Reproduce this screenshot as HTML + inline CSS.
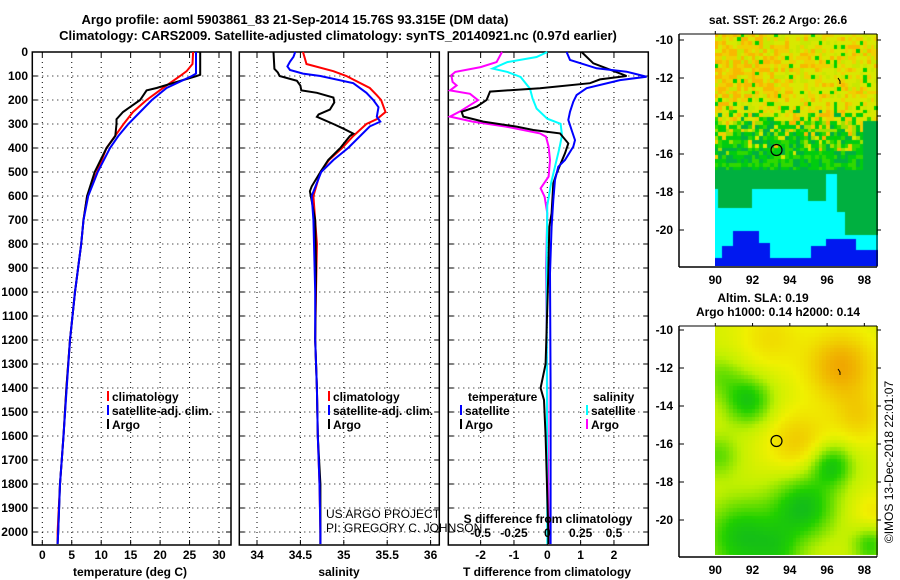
<!DOCTYPE html>
<html><head><meta charset="utf-8"><style>
html,body{margin:0;padding:0;background:#fff;}
#wrap{position:relative;width:900px;height:580px;overflow:hidden;font-family:"Liberation Sans",Arial,sans-serif;}
svg text{font-family:"Liberation Sans",Arial,sans-serif;font-weight:bold;font-size:12px;fill:#000;}
canvas{position:absolute;}
</style></head><body>
<div id="wrap">
<canvas id="sst" width="163" height="232" style="left:715px;top:34px"></canvas>
<canvas id="sla" width="163" height="229" style="left:715px;top:326px"></canvas>
<svg id="svg" width="900" height="580" style="position:absolute;left:0;top:0"></svg>
</div>
<script>
// ---- data ----
const tArgoD=[0,95,100,150,160,200,250,280,300,350,400,500,600,700,800,1000,1200,1400,1600,1800,2000,2050];
const tArgoV=[26.8,26.8,26.2,19.4,17.7,16.6,13.7,12.6,12.6,12.4,10.9,8.9,7.6,7.0,6.6,5.55,4.7,4.1,3.6,3.0,2.7,2.6];
const tClimD=[0,50,80,100,150,200,250,300,400,500,600,700,800,1000,1200,1400,1600,1800,2000,2050];
const tClimV=[25.6,25.5,24.5,23.4,20.5,17.7,15.4,13.8,10.9,9.3,7.6,7.0,6.6,5.55,4.7,4.1,3.6,3.0,2.6,2.6];
const tSatD=[0,90,100,150,200,250,300,350,400,500,600,700,800,1000,1200,1400,1600,1800,2000,2050];
const tSatV=[26.1,26.1,25.4,21.1,18.6,16.6,14.6,12.9,11.5,9.4,7.8,7.0,6.6,5.55,4.7,4.15,3.6,3.0,2.7,2.6];
const sArgoD=[0,70,85,100,120,140,160,170,190,210,240,260,270,300,320,340,350,400,450,500,560,580,620,700,900,1200,1400,1600,1800,2000,2050];
const sArgoV=[34.19,34.2,34.24,34.26,34.46,34.5,34.51,34.69,34.88,34.89,34.84,34.71,34.69,34.88,35.0,35.11,35.07,34.96,34.82,34.73,34.63,34.61,34.63,34.67,34.68,34.67,34.69,34.7,34.73,34.73,34.73];
const sClimD=[0,50,80,100,150,180,200,250,280,300,350,400,450,500,600,800,1000,1200,1400,1600,1800,2000,2050];
const sClimV=[34.53,34.57,34.88,35.03,35.3,35.38,35.43,35.48,35.38,35.26,35.11,34.98,34.83,34.73,34.65,34.69,34.68,34.67,34.69,34.7,34.72,34.73,34.73];
const sSatD=[0,20,40,60,75,90,100,130,170,200,230,270,290,310,400,450,500,600,700,1000,1200,1400,1600,1800,2000,2050];
const sSatV=[34.44,34.42,34.38,34.35,34.38,34.53,34.73,35.11,35.26,35.34,35.40,35.38,35.42,35.3,35.05,34.88,34.74,34.63,34.65,34.67,34.67,34.69,34.7,34.72,34.73,34.73];
const dtSatD=[0,33,68,82,103,117,151,179,207,249,283,325,367,394,450,478,533,617,728,922,1400,2000,2050];
const dtSatV=[0.58,0.68,1.48,2.38,2.98,2.18,1.18,0.88,0.78,0.68,0.63,0.73,0.83,0.78,0.53,0.33,0.23,0.18,0.13,0.08,0.1,0.1,0.1];
const dtArgoD=[0,47,89,100,114,130,151,165,200,228,249,269,290,311,325,339,381,422,506,547,672,728,922,1300,1400,1450,1600,2000,2050];
const dtArgoV=[1.03,1.38,2.18,2.38,1.58,1.28,-0.22,-1.72,-1.82,-2.12,-2.57,-2.52,-1.92,-0.92,-0.42,0.38,0.63,0.53,0.28,0.18,0.13,0.06,0.03,-0.05,-0.2,-0.1,-0.05,0.03,0.03];
const dsArgoD=[0,42,63,83,97,125,139,160,174,201,249,269,290,311,339,353,394,450,519,568,603,672,900,2000,2050];
const dsArgoV=[-0.34,-0.38,-0.5,-0.69,-0.72,-0.71,-0.68,-0.73,-0.58,-0.52,-0.66,-0.73,-0.56,-0.31,-0.055,-0.01,0.01,0.02,0.01,-0.05,-0.02,0,-0.01,0.01,0.01];
const dsSatD=[0,21,42,69,83,104,153,194,236,278,299,347,403,472,542,639,900,2000,2050];
const dsSatV=[0,-0.08,-0.3,-0.41,-0.3,-0.2,-0.13,-0.11,-0.08,0,0.1,0.11,0.09,0.06,0.03,0,-0.005,0,0];
const depthTicks=[0,100,200,300,400,500,600,700,800,900,1000,1100,1200,1300,1400,1500,1600,1700,1800,1900,2000];
const tTicks=[0,5,10,15,20,25,30];
const sTicks=[34,34.5,35,35.5,36];
const dTTicks=[-2,-1,0,1,2];
const dSTicks=[-0.5,-0.25,0,0.25,0.5];
const latTicks=[-10,-12,-14,-16,-18,-20];
const lonTicks=[90,92,94,96,98];

// ---- axes ----
const yD=d=>52+d*0.24;
const xT=t=>42.3+t*5.89;
const xS=s=>257+(s-34)*86.8;
const xDT=v=>547.3+v*33.33;
const xDS=v=>547.3+v*133.33;
const TOP=52,BOT=545;
const svg=document.getElementById('svg');
const NS='http://www.w3.org/2000/svg';
function mk(tag,attrs,parent){const e=document.createElementNS(NS,tag);for(const k in attrs)e.setAttribute(k,attrs[k]);(parent||svg).appendChild(e);return e;}
function txt(x,y,s,anchor,extra){const e=mk('text',Object.assign({x:x,y:y,'text-anchor':anchor||'start'},extra||{}));e.textContent=s;return e;}

const panels=[{l:32.3,r:231,name:'temperature-panel',xf:xT,ticks:tTicks},{l:239.3,r:439.3,name:'salinity-panel',xf:xS,ticks:sTicks},{l:448.3,r:648.3,name:'difference-panel',xf:xDT,ticks:dTTicks}];
panels.forEach(p=>{
  const g=mk('g',{});
  
  
  depthTicks.forEach(d=>{const l=mk('line',{x1:p.l,x2:p.r,y1:yD(d),y2:yD(d),stroke:'#000','stroke-width':1,'stroke-dasharray':'1,4'},g);
    
    mk('line',{x1:p.l,x2:p.l+5,y1:yD(d),y2:yD(d),stroke:'#000'},g);mk('line',{x1:p.r-5,x2:p.r,y1:yD(d),y2:yD(d),stroke:'#000'},g);});
  p.ticks.forEach(t=>{const x=p.xf(t);const l=mk('line',{x1:x,x2:x,y1:TOP,y2:BOT,stroke:'#000','stroke-width':1,'stroke-dasharray':'1,4'},g);
    
    mk('line',{x1:x,x2:x,y1:TOP,y2:TOP+5,stroke:'#000'},g);mk('line',{x1:x,x2:x,y1:BOT-5,y2:BOT,stroke:'#000'},g);});
  const f=mk('rect',{x:p.l,y:TOP,width:p.r-p.l,height:BOT-TOP,fill:'none',stroke:'#000','stroke-width':1.5},g);
  
});
depthTicks.forEach(d=>{const e=txt(28,yD(d)+4,String(d),'end');});
tTicks.forEach(t=>{const e=txt(xT(t),559,String(t),'middle');});
sTicks.forEach(t=>{const e=txt(xS(t),559,String(t),'middle');});
dTTicks.forEach(t=>{const e=txt(xDT(t),559,String(t),'middle');});

function line(D,V,xf,color,w,name){
  const pts=D.map((d,i)=>xf(V[i]).toFixed(1)+','+yD(d).toFixed(1)).join(' ');
  const e=mk('polyline',{points:pts,fill:'none',stroke:color,'stroke-width':w,'stroke-linejoin':'miter'});
  
}
line(tClimD,tClimV,xT,'#ff0000',2,'temperature-climatology-line');
line(tArgoD,tArgoV,xT,'#000000',2,'temperature-argo-line');
line(tSatD,tSatV,xT,'#0000ff',2,'temperature-satellite-line');
line(sClimD,sClimV,xS,'#ff0000',2,'salinity-climatology-line');
line(sArgoD,sArgoV,xS,'#000000',2,'salinity-argo-line');
line(sSatD,sSatV,xS,'#0000ff',2,'salinity-satellite-line');
line(dsArgoD,dsArgoV,xDS,'#ff00ff',2,'s-diff-argo-line');
line(dsSatD,dsSatV,xDS,'#00ffff',2,'s-diff-satellite-line');
line(dtArgoD,dtArgoV,xDT,'#000000',2,'t-diff-argo-line');
line(dtSatD,dtSatV,xDT,'#0000ff',2,'t-diff-satellite-line');

function leg(x,y,color,label,name){
  const g=mk('g',{});
  if(color)mk('rect',{x:x,y:y-10,width:2,height:10,fill:color},g);
  const t=mk('text',{x:x+5,y:y},g);t.textContent=label;
}
leg(107,401,'#ff0000','climatology','legend-entry-climatology');
leg(107,415,'#0000ff','satellite-adj. clim.','legend-entry-satellite');
leg(107,429,'#000000','Argo','legend-entry-argo');
leg(328,401,'#ff0000','climatology','legend-entry-climatology');
leg(328,415,'#0000ff','satellite-adj. clim.','legend-entry-satellite');
leg(328,429,'#000000','Argo','legend-entry-argo');
leg(463,401,null,'temperature','legend-title-temperature');
leg(460,415,'#0000ff','satellite','legend-entry-t-satellite');
leg(460,429,'#000000','Argo','legend-entry-t-argo');
leg(588,401,null,'salinity','legend-title-salinity');
leg(586,415,'#00ffff','satellite','legend-entry-s-satellite');
leg(586,429,'#ff00ff','Argo','legend-entry-s-argo');

let e;
e=txt(326,518,'US ARGO PROJECT','start',{style:'font-weight:normal;font-size:12px'});
e=txt(326,532,'PI: GREGORY C. JOHNSON','start',{style:'font-weight:normal;font-size:12px'});
e=txt(548,523,'S difference from climatology','middle');
dSTicks.forEach(t=>{const e=txt(xDS(t),537,String(t),'middle');});
e=txt(130,576,'temperature (deg C)','middle');
e=txt(339,576,'salinity','middle');
e=txt(547,576,'T difference from climatology','middle');
e=txt(295,24,'Argo profile: aoml 5903861_83 21-Sep-2014 15.76S 93.315E (DM data)','middle',{style:'font-size:13px'});
e=txt(338,40,'Climatology: CARS2009. Satellite-adjusted climatology: synTS_20140921.nc (0.97d earlier)','middle',{style:'font-size:13px'});
e=txt(778,24,'sat. SST: 26.2 Argo: 26.6','middle');
e=txt(763,302,'Altim. SLA: 0.19','middle');
e=txt(778,316,'Argo h1000: 0.14 h2000: 0.14','middle');
e=txt(0,0,'©IMOS 13-Dec-2018 22:01:07','middle',{transform:'translate(893,462) rotate(-90)',style:'font-weight:normal;font-size:12px'});

function mapAxes(top,bot,lat0y,name){
  const g=mk('g',{});
  mk('line',{x1:679,x2:679,y1:top,y2:bot,stroke:'#000','stroke-width':1.5},g);
  mk('line',{x1:679,x2:877,y1:bot,y2:bot,stroke:'#000','stroke-width':1.5},g);
  mk('line',{x1:679,x2:877,y1:top,y2:top,stroke:'#000','stroke-width':1},g);
  mk('line',{x1:877,x2:877,y1:top,y2:bot,stroke:'#000','stroke-width':1},g);
  latTicks.forEach(la=>{const y=lat0y+(-10-la)*19;mk('line',{x1:679,x2:684,y1:y,y2:y,stroke:'#000'},g);mk('line',{x1:877,x2:881,y1:y,y2:y,stroke:'#000'},g);
    const t=mk('text',{x:673,y:y+4,'text-anchor':'end'},g);t.textContent=String(la);});
  lonTicks.forEach(lo=>{const x=715.3+(lo-90)*18.63;mk('line',{x1:x,x2:x,y1:top,y2:top-3,stroke:'#000'},g);
    const t=mk('text',{x:x,y:bot+17,'text-anchor':'middle'},g);t.textContent=String(lo);});
}
mapAxes(34,267,40,'sst-map-axes');
mapAxes(326,557,330,'sla-map-axes');
const c1=mk('circle',{cx:776.5,cy:150,r:5.5,fill:'none',stroke:'#000','stroke-width':1.2});


mk('path',{d:'M838 78 l2 3 l0 3',fill:'none',stroke:'#000','stroke-width':1});
const c2=mk('circle',{cx:776.5,cy:441,r:5.5,fill:'none',stroke:'#000','stroke-width':1.2});


mk('path',{d:'M838 369 l2 3 l0 3',fill:'none',stroke:'#000','stroke-width':1});

function h(i,j){let n=(i*374761393+j*668265263)|0;n=(n^(n>>>13))*1274126177|0;return ((n^(n>>>16))>>>0)/4294967296;}
(function(){
 const cv=document.getElementById('sst').getContext('2d');
 const cw=3.72,ch=3.8;
 const warm=['#f8b800','#f0d000','#e0e000','#d8e800','#c8e800'];
 for(let j=0;j<62;j++)for(let i=0;i<44;i++){
  const lon=90+(i+0.5)*0.2, lat=-9.65-(j+0.5)*0.2, r=h(i,j), r2=h(i+97,j+31);
  let col;
  let blueTop = lon<90.5?-21.5:lon<91?-20.9:lon<92.5?-20.1:lon<93?-20.6:lon<95.2?-21.5:lon<96?-20.9:lon<97.7?-20.4:-21.0;
  let cyTop = lon<90.2?-17.8:lon<92?-18.9:lon<95?-17.8:lon<96?-18.4:lon<96.6?-17.0:lon<97?-19.0:-20.3;
  if(lat<blueTop) col='#0018f0';
  else if(lat<cyTop) col='#00ffff';
  else if(lat<-16.9 || (lon>97.9&&lat<-14.2)) col='#00b040';
  else {
    // greenness increases southward smoothly
    let g=(-13.2-lat)/3.2; g=Math.max(0,Math.min(1,g));
    if(lat<-16.3) g=1;
    if(r<g){ col = r2<0.3?'#00b040':(r2<0.7?'#00cc10':'#30d800'); }
    else if(r2<0.06){ col='#00d000'; }
    else {
      const orn=(lon<93.5&&lat>-13)?0.45:0.15;
      col = r2<orn?warm[0]:(r2<orn+0.25?warm[1]:(r2<0.85?warm[3]:warm[4]));
      if(g>0.3 && r2>0.6) col='#a0e000';
    }
  }
  cv.fillStyle=col;cv.fillRect(Math.floor(i*cw),Math.floor(j*ch),Math.ceil(cw)+1,Math.ceil(ch)+1);
 }
 const sv=document.getElementById('sla').getContext('2d');
 const blobs=[[96.8,-11.8,0.35,1.3],[94.5,-15.8,0.22,1.2],[97.8,-14.5,0.18,1.0],[93,-10.3,0.15,1.2],[98.5,-19.5,0.12,0.8],
  [91.8,-13.6,-0.38,0.9],[96.3,-17.0,-0.38,0.8],[94.8,-19.2,-0.42,1.2],[91.5,-20.8,-0.4,1.4],[90.2,-16.5,-0.22,0.8],[98.4,-21.2,-0.3,0.7],[90.3,-12.3,-0.18,0.8],[93.5,-21.5,-0.2,0.9]];
 const stops=[[0,[0,160,64]],[0.3,[32,208,0]],[0.55,[192,240,0]],[0.7,[240,240,0]],[0.85,[240,200,0]],[1,[240,160,0]]];
 function cmap(v){v=Math.max(0,Math.min(1,v));for(let k=1;k<stops.length;k++){if(v<=stops[k][0]){const a=stops[k-1],b=stops[k],t=(v-a[0])/(b[0]-a[0]);return 'rgb('+a[1].map((c,m)=>Math.round(c+(b[1][m]-c)*t)).join(',')+')';}}return 'rgb(240,160,0)';}
 for(let j=0;j<61;j++)for(let i=0;i<44;i++){
  const lon=90+(i+0.5)*0.2, lat=-9.65-(j+0.5)*0.2;
  let v=0.62;blobs.forEach(b=>{const dx=lon-b[0],dy=lat-b[1];v+=b[2]*Math.exp(-(dx*dx+dy*dy)/(2*b[3]*b[3]));});
  sv.fillStyle=cmap(v);sv.fillRect(Math.floor(i*3.72),Math.floor(j*3.8),5,5);
 }
})();
</script>
</body></html>
